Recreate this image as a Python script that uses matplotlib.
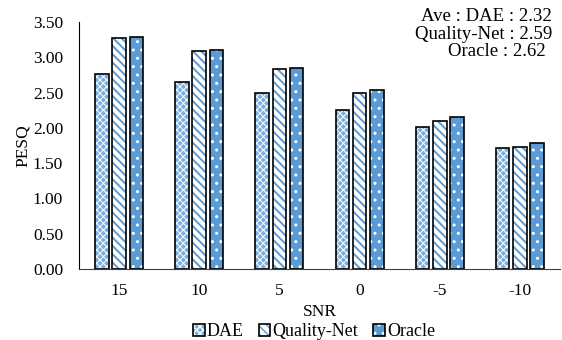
import numpy as np
import matplotlib
matplotlib.use("Agg")
import matplotlib.pyplot as plt
from matplotlib.patches import Patch
from matplotlib.legend_handler import HandlerTuple

plt.rcParams['font.family'] = ['Liberation Serif', 'DejaVu Serif']
plt.rcParams['font.size'] = 12.5

snr = ['15', '10', '5', '0', '-5', '-10']
dae = [2.76, 2.65, 2.49, 2.26, 2.01, 1.71]
quality_net = [3.28, 3.09, 2.83, 2.50, 2.10, 1.73]
oracle = [3.29, 3.10, 2.85, 2.53, 2.15, 1.79]
averages = [('Ave : DAE', 2.32), ('Quality-Net', 2.59), ('Oracle', 2.62)]

fig = plt.figure(figsize=(5.62, 3.40), dpi=100)
ax = fig.add_axes([0.1406, 0.2088, 0.8558, 0.7265])

x = np.arange(len(snr))
width = 0.17
step = 0.215

# (values, face, hatch colour, hatch, hatch lw, name)
styles = [
    (dae, '#7aaede', 'white', 'xxxxx', 0.7, 'DAE'),
    (quality_net, 'white', '#5b9bd5', '\\\\\\\\', 1.4, 'Quality-Net'),
    (oracle, '#5b9bd5', 'white', '..', 1.0, 'Oracle'),
]
handles = []
names = []
for i, (vals, face, hcol, hatch, hlw, name) in enumerate(styles):
    pos = x + (i - 1) * step
    with plt.rc_context({'hatch.linewidth': hlw}):
        ax.bar(pos, vals, width, color=face, edgecolor=hcol, hatch=hatch, linewidth=0)
        fill = Patch(facecolor=face, edgecolor=hcol, hatch=hatch, linewidth=0)
    ax.bar(pos, vals, width, fill=False, edgecolor='black', linewidth=1.2)
    outline = Patch(fill=False, edgecolor='black', linewidth=1.2)
    handles.append((fill, outline))
    names.append(name)

ax.set_xlim(-0.5, len(snr) - 0.5)
ax.set_ylim(0, 3.5)
yt = np.arange(0, 3.51, 0.5)
ax.set_yticks(yt)
ax.set_yticklabels([f'{v:.2f}' for v in yt])
ax.set_xticks(x)
ax.set_xticklabels(snr)
ax.tick_params(axis='y', length=0, pad=11.5)
ax.tick_params(axis='x', length=0, pad=10)
ax.spines['top'].set_visible(False)
ax.spines['right'].set_visible(False)
ax.spines['left'].set_color('black')
ax.spines['bottom'].set_color('#404040')
ax.set_xlabel('SNR', labelpad=4)
ax.set_ylabel('PESQ', labelpad=1)

fig.text(0.982, 0.938, f'{averages[0][0]} : {averages[0][1]:.2f}', ha='right', va='baseline', fontsize=13.5)
fig.text(0.982, 0.886, f'{averages[1][0]} : {averages[1][1]:.2f}', ha='right', va='baseline', fontsize=13.5)
fig.text(0.970, 0.836, f'{averages[2][0]} : {averages[2][1]:.2f}', ha='right', va='baseline', fontsize=13.5)

fig.legend(handles=handles, labels=names, handler_map={tuple: HandlerTuple(ndivide=1, pad=0)},
           loc='center', bbox_to_anchor=(0.559, 0.024), ncol=3,
           frameon=False, handlelength=0.62, handleheight=0.62, handletextpad=0.12,
           columnspacing=0.85, fontsize=13, borderpad=0.1)

fig.savefig('out.png', dpi=100)
